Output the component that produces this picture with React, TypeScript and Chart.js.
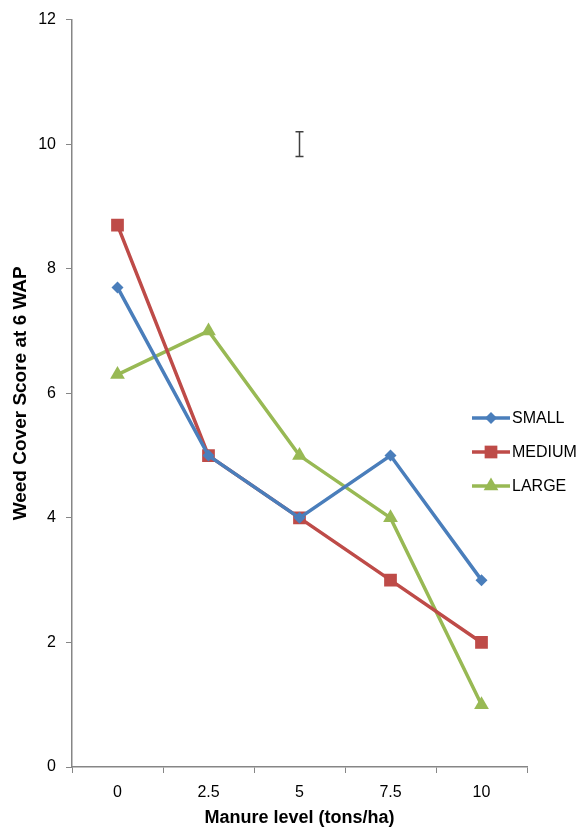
import React, { useEffect, useRef } from "react";
import { Chart, registerables } from "chart.js";

Chart.register(...registerables);

const categories = ["0", "2.5", "5", "7.5", "10"];
const smallValues = [7.7, 5, 4, 5, 3];
const mediumValues = [8.7, 5, 4, 3, 2];
const largeValues = [6.3, 7, 5, 4, 1];
const yTicks = [0, 2, 4, 6, 8, 10, 12];
const errorBarCategory = "5";
const errorBarLow = 9.8;
const errorBarHigh = 10.2;

const FONT = "'Liberation Sans', Arial, sans-serif";

const errorBarPlugin = {
  id: "errorBar",
  afterDatasetsDraw(chart: any) {
    const { ctx, scales } = chart;
    const x = scales.x.getPixelForValue(categories.indexOf(errorBarCategory));
    const yLo = scales.y.getPixelForValue(errorBarLow);
    const yHi = scales.y.getPixelForValue(errorBarHigh);
    ctx.save();
    ctx.strokeStyle = "#404040";
    ctx.lineWidth = 1.5;
    ctx.beginPath();
    ctx.moveTo(x, yLo);
    ctx.lineTo(x, yHi);
    ctx.moveTo(x - 4, yLo);
    ctx.lineTo(x + 4, yLo);
    ctx.moveTo(x - 4, yHi);
    ctx.lineTo(x + 4, yHi);
    ctx.stroke();
    ctx.restore();
  },
};

function drawMarker(ctx: CanvasRenderingContext2D, style: string, r: number, x: number, y: number) {
  ctx.beginPath();
  if (style === "rectRot") {
    ctx.moveTo(x, y - r);
    ctx.lineTo(x + r, y);
    ctx.lineTo(x, y + r);
    ctx.lineTo(x - r, y);
    ctx.closePath();
  } else if (style === "rect") {
    const s = r * Math.SQRT1_2;
    ctx.rect(x - s, y - s, 2 * s, 2 * s);
  } else {
    const rad = -Math.PI / 2;
    ctx.moveTo(x + Math.cos(rad) * r, y + Math.sin(rad) * r);
    ctx.lineTo(x + Math.cos(rad + (2 * Math.PI) / 3) * r, y + Math.sin(rad + (2 * Math.PI) / 3) * r);
    ctx.lineTo(x + Math.cos(rad + (4 * Math.PI) / 3) * r, y + Math.sin(rad + (4 * Math.PI) / 3) * r);
    ctx.closePath();
  }
  ctx.fill();
}

const customLegendPlugin = {
  id: "customLegend",
  afterDraw(chart: any) {
    const { ctx } = chart;
    const startX = 472;
    const lineLen = 38;
    const startY = 418;
    const rowGap = 34;
    chart.data.datasets.forEach((ds: any, i: number) => {
      const y = startY + i * rowGap;
      ctx.save();
      ctx.strokeStyle = ds.borderColor;
      ctx.lineWidth = 3.5;
      ctx.beginPath();
      ctx.moveTo(startX, y);
      ctx.lineTo(startX + lineLen, y);
      ctx.stroke();
      ctx.fillStyle = ds.pointBackgroundColor;
      drawMarker(ctx, ds.pointStyle, ds.pointRadius, startX + lineLen / 2, y);
      ctx.fillStyle = "#000";
      ctx.font = `16px ${FONT}`;
      ctx.textBaseline = "middle";
      ctx.textAlign = "left";
      ctx.fillText(ds.label, startX + lineLen + 2, y + 1);
      ctx.restore();
    });
  },
};

export default function App() {
  const ref = useRef<HTMLCanvasElement | null>(null);

  useEffect(() => {
    if (!ref.current) return;
    const mk = (label: string, data: number[], color: string, style: string, radius: number) => ({
      label,
      data,
      borderColor: color,
      backgroundColor: color,
      pointBackgroundColor: color,
      pointBorderColor: color,
      pointStyle: style,
      pointRadius: radius,
      pointBorderWidth: 0,
      borderWidth: 3.5,
      tension: 0,
    });
    const chart = new Chart(ref.current, {
      type: "line",
      data: {
        labels: categories,
        datasets: [
          mk("SMALL", smallValues, "#4A7EBB", "rectRot", 6),
          mk("MEDIUM", mediumValues, "#BE4B48", "rect", 9),
          mk("LARGE", largeValues, "#98B954", "triangle", 8.5),
        ] as any,
      },
      options: {
        responsive: false,
        animation: false,
        layout: { padding: { top: 18, right: 54, left: 0, bottom: 0 } },
        plugins: {
          legend: { display: false },
          tooltip: { enabled: false },
        },
        scales: {
          x: {
            type: "category",
            offset: true,
            grid: {
              offset: true,
              drawOnChartArea: false,
              drawTicks: true,
              tickLength: 6,
              color: "#868686",
            },
            border: { color: "#868686", width: 1.5 },
            ticks: { color: "#000", font: { family: FONT, size: 16 }, padding: 10 },
            title: {
              display: true,
              text: "Manure level (tons/ha)",
              color: "#000",
              font: { family: FONT, size: 18, weight: "bold" },
              padding: { top: 4, bottom: 0 },
            },
            afterFit: (s: any) => {
              s.height = 62;
            },
          },
          y: {
            min: 0,
            max: 12,
            afterBuildTicks: (s: any) => {
              s.ticks = yTicks.map((v) => ({ value: v }));
            },
            grid: {
              drawOnChartArea: false,
              drawTicks: true,
              tickLength: 6,
              color: "#868686",
            },
            border: { color: "#868686", width: 1.5 },
            ticks: { color: "#000", font: { family: FONT, size: 16 }, padding: 10 },
            title: {
              display: true,
              text: "Weed Cover Score at 6 WAP",
              color: "#000",
              font: { family: FONT, size: 19, weight: "bold" },
              padding: { top: 9, bottom: 0 },
            },
            afterFit: (s: any) => {
              s.width = 72;
            },
          },
        },
      } as any,
      plugins: [errorBarPlugin, customLegendPlugin],
    });
    return () => chart.destroy();
  }, []);

  return (
    <div style={{ position: "fixed", left: 0, top: 0, width: 581, height: 829, background: "#fff" }}>
      <canvas ref={ref} width={581} height={829} style={{ display: "block" }} />
    </div>
  );
}
